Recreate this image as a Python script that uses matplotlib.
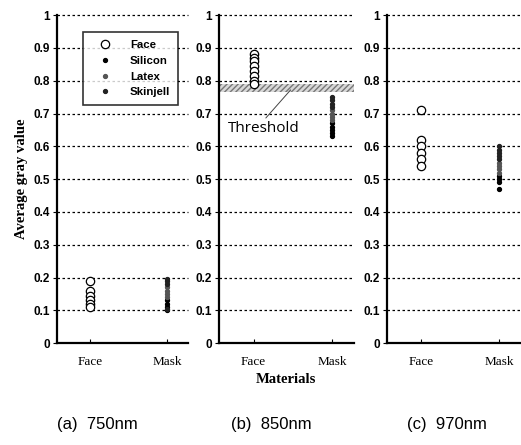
import matplotlib
matplotlib.use("Agg")
import matplotlib.pyplot as plt

categories = ["Face", "Mask"]
panel_titles = ["(a)  750nm", "(b)  850nm", "(c)  970nm"]
yticks = [0, 0.1, 0.2, 0.3, 0.4, 0.5, 0.6, 0.7, 0.8, 0.9, 1.0]
yticklabels = ["0", "0.1", "0.2", "0.3", "0.4", "0.5", "0.6", "0.7", "0.8", "0.9", "1"]

# Face values per panel
face_750 = [0.19, 0.16, 0.145, 0.13, 0.12, 0.11]
face_850 = [0.88, 0.87, 0.86, 0.845, 0.83, 0.815, 0.80, 0.79]
face_970 = [0.71, 0.62, 0.60, 0.58, 0.56, 0.54]

# Mask materials per panel
silicon_750 = [0.10, 0.11, 0.12, 0.13]
latex_750 = [0.14, 0.15, 0.16, 0.17]
skinjell_750 = [0.18, 0.19, 0.195, 0.105]
silicon_850 = [0.63, 0.64, 0.65, 0.66, 0.67]
latex_850 = [0.68, 0.69, 0.70, 0.71]
skinjell_850 = [0.72, 0.73, 0.74, 0.75]
silicon_970 = [0.47, 0.49, 0.50, 0.51]
latex_970 = [0.52, 0.53, 0.54, 0.55]
skinjell_970 = [0.56, 0.57, 0.58, 0.59, 0.60]

threshold_low, threshold_high = 0.765, 0.79

faces = [face_750, face_850, face_970]
silicons = [silicon_750, silicon_850, silicon_970]
latexes = [latex_750, latex_850, latex_970]
skinjells = [skinjell_750, skinjell_850, skinjell_970]

fig = plt.figure(figsize=(5.21, 4.45), dpi=100)
lefts = [0.109, 0.420, 0.743]
widths = [0.251, 0.259, 0.255]
bottom, height = 0.229, 0.737
caption_x = [97 / 521, 271 / 521, 447 / 521]

serif = "Liberation Serif"
sans = "Liberation Sans"

axes = []
for i in range(3):
    ax = fig.add_axes([lefts[i], bottom, widths[i], height])
    axes.append(ax)
    ax.set_xlim(0.56, 2.27)
    ax.set_ylim(0, 1.0)
    for y in yticks[1:]:
        ax.axhline(y, color="black", lw=0.9, ls=(0, (2, 2)), zorder=1, clip_on=False)
    ax.plot([1] * len(faces[i]), faces[i], "o", mfc="white", mec="black",
            ms=6, mew=0.9, zorder=3, label="Face")
    ax.plot([2] * len(silicons[i]), silicons[i], "o", color="black", ms=2.8,
            zorder=3, label="Silicon")
    ax.plot([2] * len(latexes[i]), latexes[i], "o", color="#555555", ms=2.8,
            zorder=3, label="Latex")
    ax.plot([2] * len(skinjells[i]), skinjells[i], "o", color="#222222", ms=2.8,
            zorder=3, label="Skinjell")
    for s in ["top", "right"]:
        ax.spines[s].set_visible(False)
    for s in ["left", "bottom"]:
        ax.spines[s].set_linewidth(1.6)
    ax.set_yticks(yticks)
    ax.set_yticklabels(yticklabels, fontfamily=sans, fontsize=8.5, fontweight="bold")
    ax.set_xticks([1, 2])
    ax.set_xticklabels(categories, fontfamily=serif, fontsize=9.5)
    ax.tick_params(axis="y", length=3, width=0.8, direction="out", pad=2)
    ax.tick_params(axis="x", length=3, width=0.8, direction="in", pad=9)
    fig.text(caption_x[i], 1 - 425 / 445, panel_titles[i], ha="center", va="center",
             fontfamily=sans, fontsize=12)

axes[0].set_ylabel("Average gray value", fontfamily=serif, fontweight="bold",
                   fontsize=10.5, labelpad=4)
axes[1].set_xlabel("Materials", fontfamily=serif, fontweight="bold", fontsize=10.5,
                   labelpad=4)

leg = axes[0].legend(loc="upper left", bbox_to_anchor=(0.16, 0.965), frameon=True,
                     fancybox=False, edgecolor="black",
                     prop={"family": sans, "weight": "bold", "size": 8.2},
                     handletextpad=1.0, borderpad=0.7, labelspacing=0.5,
                     handlelength=2.4)
leg.get_frame().set_linewidth(1.2)
leg.set_zorder(5)

axb = axes[1]
axb.axhspan(threshold_low, threshold_high, facecolor="#d8d8d8", edgecolor="#777777",
            hatch="//////", lw=0, zorder=2)
axb.annotate("Threshold", xy=(1.47, 0.772), xytext=(0.67, 0.655),
             fontfamily="Open Sans", fontsize=11, va="center", ha="left",
             arrowprops=dict(arrowstyle="-", color="#444444", lw=0.7,
                             shrinkA=0, shrinkB=0, relpos=(0.5, 1.0)))

fig.savefig("out.png", dpi=100)
